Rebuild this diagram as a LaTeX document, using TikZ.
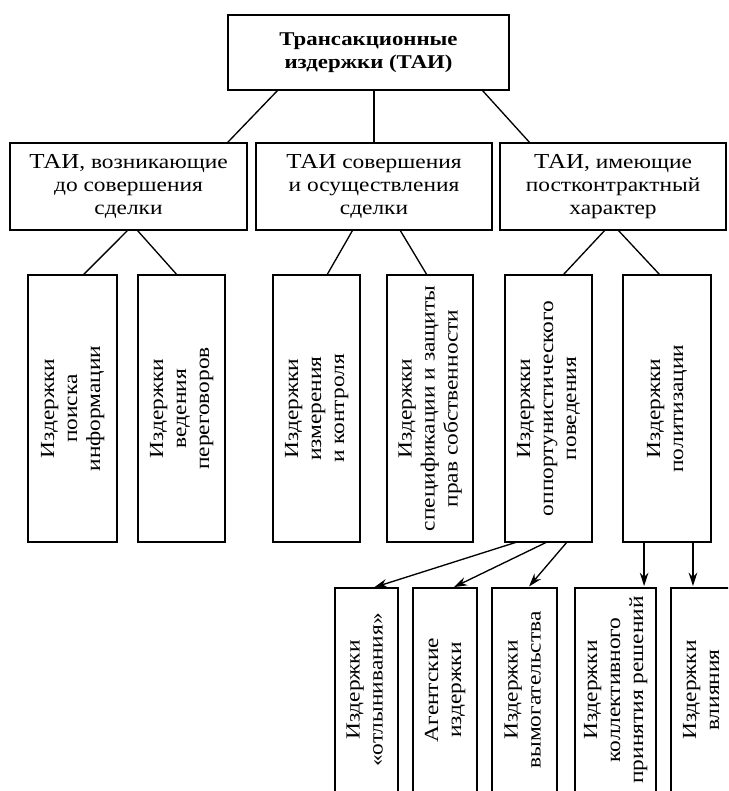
\documentclass[tikz,border=0pt]{standalone}
\usepackage{fontspec}
\setmainfont[FakeStretch=1.17]{Liberation Serif}
\usepackage{graphicx}
\usetikzlibrary{arrows.meta,calc}

\tikzset{every picture/.style={line width=0.75pt}}
\tikzset{
  box/.style={draw, line width=1.6pt, inner sep=0pt, outer sep=0pt, align=center,
    font=\fontsize{15}{17.25}\selectfont},
  midbox/.style={box, minimum height=65.25pt},
  vbox/.style={box, minimum height=200.25pt},
  lowbox/.style={box, minimum height=153pt},
  link/.style={line width=1pt},
  arrowlink/.style={link, -{Stealth[length=10pt,width=6.5pt]}, shorten >=1.5pt},
}
\newcommand{\taiabbr}{{\fontsize{16}{17.25}\selectfont ТАИ}}
\newcommand{\vtext}[1]{\rotatebox{90}{\begin{tabular}{@{}c@{}}#1\end{tabular}}}

\begin{document}
\begin{tikzpicture}[x=0.75pt,y=0.75pt,yscale=-1,xscale=1]
\useasboundingbox (0,0) rectangle (728,791);
\clip (0,0) rectangle (728,791);

%Top box
\node[box, minimum width=210.75pt, minimum height=56.25pt,
  font=\bfseries\fontsize{14.6}{17.5}\selectfont] (tai) at (368.5,52.5) {Трансакционные\\издержки (ТАИ)};

%Second level
\node[midbox, minimum width=177.75pt] (pre) at (128.5,186.5) {\taiabbr, возникающие\\до совершения\\сделки};
\node[midbox, minimum width=177pt] (exec) at (374,186.5) {\taiabbr{} совершения\\и осуществления\\сделки};
\node[midbox, minimum width=169.5pt] (post) at (613,186.5) {\taiabbr, имеющие\\постконтрактный\\характер};

%Third level
\node[vbox, minimum width=66.75pt] (search) at (72.5,408.5) {\vtext{Издержки\\поиска\\информации}};
\node[vbox, minimum width=65.25pt] (negot) at (181.5,408.5) {\vtext{Издержки\\ведения\\переговоров}};
\node[vbox, minimum width=65.25pt] (measure) at (316.5,408.5) {\vtext{Издержки\\измерения\\и контроля}};
\node[vbox, minimum width=64.5pt] (spec) at (430,408.5) {\vtext{Издержки\\спецификации и защиты\\прав собственности}};
\node[vbox, minimum width=65.25pt] (oppo) at (548.5,408.5) {\vtext{Издержки\\оппортунистического\\поведения}};
\node[vbox, minimum width=66pt] (polit) at (667,408.5) {\vtext{Издержки\\политизации}};

%Bottom level
\node[lowbox, minimum width=47.25pt] (shirk) at (366.5,690) {\vtext{Издержки\\«отлынивания»}};
\node[lowbox, minimum width=48pt] (agent) at (445,690) {\vtext{Агентские\\издержки}};
\node[lowbox, minimum width=48.75pt] (extort) at (524.5,690) {\vtext{Издержки\\вымогательства}};
\node[lowbox, minimum width=60.75pt] (collect) at (615.5,690) {\vtext{Издержки\\коллективного\\принятия решений}};
\node[lowbox, minimum width=48pt] (influ) at (703,690) {\vtext{Издержки\\влияния}};

%Lines between levels
\draw[link] ($(tai.south west)!0.178!(tai.south east)$) -- ($(pre.north west)!0.916!(pre.north east)$);
\draw[link] (exec.north |- tai.south) -- (exec.north);
\draw[link] ($(tai.south west)!0.904!(tai.south east)$) -- ($(post.north west)!0.133!(post.north east)$);

\draw[link] ($(pre.south west)!0.498!(pre.south east)$) -- ($(search.north west)!0.62!(search.north east)$);
\draw[link] ($(pre.south west)!0.536!(pre.south east)$) -- ($(negot.north west)!0.45!(negot.north east)$);
\draw[link] ($(exec.south west)!0.41!(exec.south east)$) -- ($(measure.north west)!0.62!(measure.north east)$);
\draw[link] ($(exec.south west)!0.61!(exec.south east)$) -- ($(spec.north west)!0.465!(spec.north east)$);
\draw[link] ($(post.south west)!0.465!(post.south east)$) -- ($(oppo.north west)!0.667!(oppo.north east)$);
\draw[link] ($(post.south west)!0.522!(post.south east)$) -- ($(polit.north west)!0.42!(polit.north east)$);

%Arrows
\draw[arrowlink] ($(oppo.south west)!0.138!(oppo.south east)$) -- ($(shirk.north west)!0.59!(shirk.north east)$);
\draw[arrowlink] ($(oppo.south west)!0.483!(oppo.south east)$) -- ($(agent.north west)!0.61!(agent.north east)$);
\draw[arrowlink] ($(oppo.south west)!0.713!(oppo.south east)$) -- ($(extort.north west)!0.55!(extort.north east)$);
\path ($(polit.south west)!0.24!(polit.south east)$) coordinate (p1)
      ($(polit.south west)!0.795!(polit.south east)$) coordinate (p2);
\draw[arrowlink] (p1) -- (p1 |- collect.north);
\draw[arrowlink] (p2) -- (p2 |- influ.north);

\end{tikzpicture}
\end{document}
